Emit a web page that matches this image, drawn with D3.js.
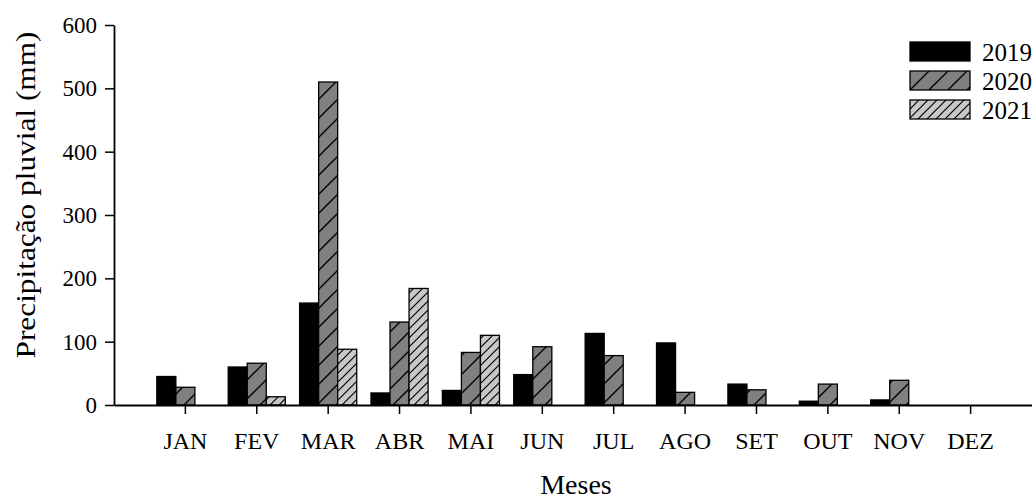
<!DOCTYPE html>
<html lang="pt">
<head>
<meta charset="UTF-8">
<title>Precipitação pluvial</title>
<script src="https://cdn.jsdelivr.net/npm/d3@7"></script>
<style>
    body { margin: 0; background: #fff; }
    text { font-family: "Liberation Serif", "Times New Roman", serif; }
</style>
</head>
<body>
<script>
    var months = ["JAN", "FEV", "MAR", "ABR", "MAI", "JUN", "JUL", "AGO", "SET", "OUT", "NOV", "DEZ"];
    var years = ["2019", "2020", "2021"];
    var v2019 = [45, 60, 161, 19, 23, 48, 113, 98, 33, 6, 8, null];
    var v2020 = [28, 66, 510, 131, 83, 92, 78, 20, 24, 33, 39, null];
    var v2021 = [null, 13, 88, 184, 110, null, null, null, null, null, null, null];
    var yTicks = [0, 100, 200, 300, 400, 500, 600];

    var width = 1032, height = 501;
    var svg = d3.select("body").append("svg")
        .attr("width", width)
        .attr("height", height);

    // fill patterns
    var defs = svg.append("defs");
    var p20 = defs.append("pattern")
        .attr("id", "hatch2020")
        .attr("patternUnits", "userSpaceOnUse")
        .attr("width", 19).attr("height", 19);
    p20.append("rect").attr("width", 19).attr("height", 19).attr("fill", "#808080");
    p20.append("path")
        .attr("d", "M0,19 L19,0 M-5,5 L5,-5 M14,24 L24,14")
        .attr("stroke", "#000").attr("stroke-width", 1.4);

    var p21 = defs.append("pattern")
        .attr("id", "hatch2021")
        .attr("patternUnits", "userSpaceOnUse")
        .attr("width", 9).attr("height", 9);
    p21.append("rect").attr("width", 9).attr("height", 9).attr("fill", "#c8c8c8");
    p21.append("path")
        .attr("d", "M0,9 L9,0 M-3,3 L3,-3 M6,12 L12,6")
        .attr("stroke", "#000").attr("stroke-width", 1.2);

    var fills = {"2019": "#000", "2020": "url(#hatch2020)", "2021": "url(#hatch2021)"};

    var x = d3.scaleBand()
        .domain(months)
        .range([114, 1042])
        .paddingInner(0.2)
        .paddingOuter(0.6);
    var xSub = d3.scaleBand()
        .domain(years)
        .range([0, x.bandwidth()]);
    var y = d3.scaleLinear()
        .domain([0, 600])
        .range([405, 25]);

    var series = {"2019": v2019, "2020": v2020, "2021": v2021};
    var bars = [];
    months.forEach(function (m, i) {
        years.forEach(function (yr) {
            var v = series[yr][i];
            if (v != null) bars.push({month: m, year: yr, value: v});
        });
    });

    svg.append("g").selectAll("rect")
        .data(bars)
        .enter().append("rect")
        .attr("x", function (d) { return x(d.month) + xSub(d.year); })
        .attr("y", function (d) { return y(d.value); })
        .attr("width", xSub.bandwidth())
        .attr("height", function (d) { return y(0) - y(d.value); })
        .attr("fill", function (d) { return fills[d.year]; })
        .attr("stroke", "#000")
        .attr("stroke-width", 1.3);

    // axes
    var xAxis = svg.append("g")
        .attr("transform", "translate(0," + y(0) + ")")
        .call(d3.axisBottom(x).tickSizeInner(9).tickSizeOuter(0).tickPadding(18));
    var yAxis = svg.append("g")
        .attr("transform", "translate(114,0)")
        .call(d3.axisLeft(y).tickValues(yTicks).tickSizeInner(9).tickSizeOuter(0).tickPadding(8));

    [xAxis, yAxis].forEach(function (a) {
        a.select(".domain").attr("stroke-width", 1.8);
        a.selectAll(".tick line").attr("stroke-width", 1.5);
        a.selectAll(".tick text")
            .attr("font-family", "Liberation Serif, Times New Roman, serif")
            .attr("fill", "#000");
    });
    xAxis.selectAll(".tick text").attr("font-size", "24px");
    yAxis.selectAll(".tick text").attr("font-size", "23px");

    svg.append("text")
        .attr("x", 576)
        .attr("y", 494)
        .attr("text-anchor", "middle")
        .attr("font-size", "28px")
        .text("Meses");

    svg.append("text")
        .attr("transform", "translate(35,195) rotate(-90)")
        .attr("text-anchor", "middle")
        .attr("font-size", "28px")
        .attr("textLength", 327)
        .attr("lengthAdjust", "spacingAndGlyphs")
        .text("Precipitação pluvial (mm)");

    // legend
    var legend = svg.append("g").attr("transform", "translate(910,42)");
    years.forEach(function (yr, i) {
        var g = legend.append("g").attr("transform", "translate(0," + i * 29 + ")");
        g.append("rect")
            .attr("width", 60).attr("height", 19)
            .attr("fill", fills[yr])
            .attr("stroke", "#000").attr("stroke-width", 1.3);
        g.append("text")
            .attr("x", 72).attr("y", 19)
            .attr("font-size", "25px")
            .text(yr);
    });
</script>
</body>
</html>
